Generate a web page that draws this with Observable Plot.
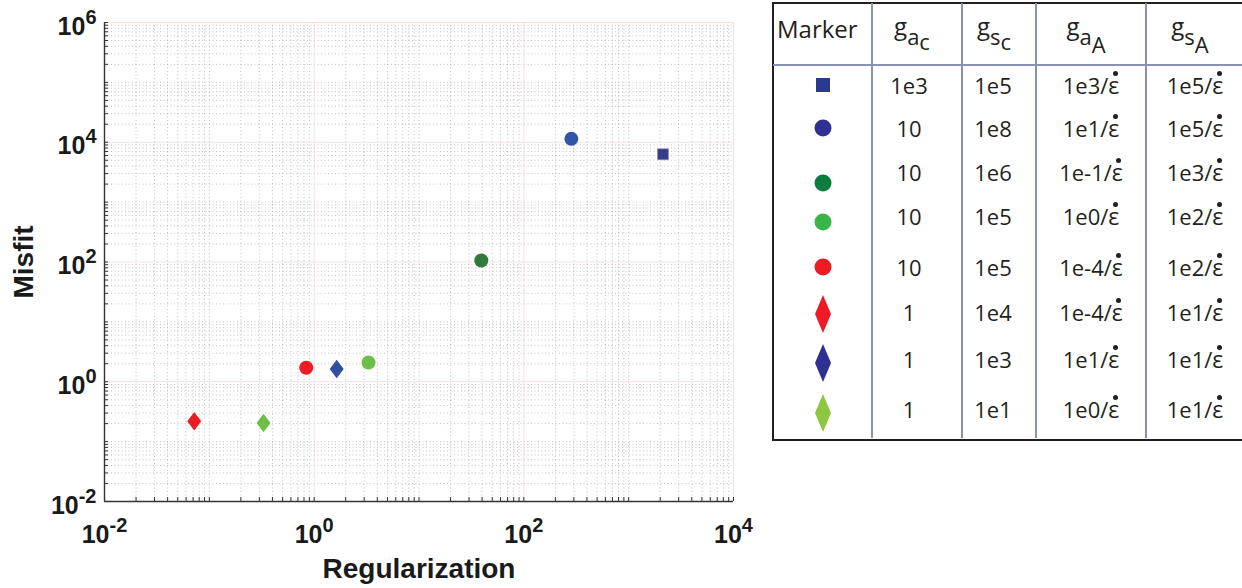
<!DOCTYPE html>
<html>
<head>
<meta charset="utf-8">
<script src="https://cdn.jsdelivr.net/npm/d3@7"></script>
<script src="https://cdn.jsdelivr.net/npm/@observablehq/plot@0.6"></script>
<style>
  html, body { margin: 0; padding: 0; background: #fff; overflow: hidden; }
  #wrap { position: relative; width: 1242px; height: 588px; }
  #chart { position: absolute; left: 0; top: 0; }
  #table { position: absolute; left: 0; top: 0; width: 1242px; height: 588px; pointer-events: none;
           font-family: "Open Sans", "Noto Sans", sans-serif; color: #231f20; }
  .cell { position: absolute; text-align: center; font-size: 22px; line-height: 26px; white-space: nowrap; }
  .hdr { position: absolute; text-align: center; font-size: 24px; line-height: 30px; white-space: nowrap; }
  .s1 { position: relative; top: 10px; font-size: 22px; }
  .s2 { position: relative; top: 5px; font-size: 22px; }
  .s2A { position: relative; top: 8px; font-size: 22px; }
  .eps { position: relative; display: inline-block; font-size: 23px; }
  .dot { position: absolute; width: 5px; height: 5px; border-radius: 50%; background: #231f20; left: calc(50% - 1px); top: -1px; }
  .line { position: absolute; background: #8a90b2; }
</style>
</head>
<body>
<div id="wrap">
  <div id="chart"></div>
  <div id="table"></div>
</div>
<script>
// ---------------- data ----------------
const series = ["sqNavy", "circleBlue", "circleDarkGreen", "circleLightGreen", "circleRed", "diamondRed", "diamondBlue", "diamondGreen"];
const regularization = [2125, 284, 39.3, 3.3, 0.84, 0.0718, 1.64, 0.329];
const misfit = [6300, 11400, 106, 2.1, 1.71, 0.219, 1.63, 0.205];
const shape = ["square", "circle", "circle", "circle", "circle", "diamond", "diamond", "diamond"];

const xMajorTicks = [1e-2, 1e0, 1e2, 1e4];
const yMajorTicks = [1e-2, 1e0, 1e2, 1e4, 1e6];

// table contents
const tableHeader = ["Marker", "g_ac", "g_sc", "g_aA", "g_sA"];
const gac = ["1e3", "10", "10", "10", "10", "1", "1", "1"];
const gsc = ["1e5", "1e8", "1e6", "1e5", "1e5", "1e4", "1e3", "1e1"];
const gaA = ["1e3", "1e1", "1e-1", "1e0", "1e-4", "1e-4", "1e1", "1e0"];
const gsA = ["1e5", "1e5", "1e3", "1e2", "1e2", "1e1", "1e1", "1e1"];

// ---------------- styles ----------------
const plotColor = {
  sqNavy: "#383c88", circleBlue: "#3353a8", circleDarkGreen: "#2f7a3c", circleLightGreen: "#6cc04a",
  circleRed: "#ec1c24", diamondRed: "#ec1c24", diamondBlue: "#2f4f9f", diamondGreen: "#6dbf45"
};
const tableColor = {
  sqNavy: "#2b3990", circleBlue: "#2e3192", circleDarkGreen: "#0a7d3e", circleLightGreen: "#39b54a",
  circleRed: "#ed1c24", diamondRed: "#ed1c24", diamondBlue: "#2e3192", diamondGreen: "#8dc63f"
};

const rows = series.map((s, i) => ({s, x: regularization[i], y: misfit[i], shape: shape[i]}));

// minor tick positions (log decades)
function logTicks(lo, hi) {
  const t = [];
  for (let e = lo; e < hi; e++) for (let m = 1; m < 10; m++) t.push(m * Math.pow(10, e));
  t.push(Math.pow(10, hi));
  return t;
}
const xAll = logTicks(-2, 4);
const yAll = logTicks(-2, 6);
const xMinor = xAll.filter(v => !xMajorTicks.some(t => Math.abs(t - v) / t < 1e-9));
const yMinor = yAll.filter(v => !yMajorTicks.some(t => Math.abs(t - v) / t < 1e-9));

const diamondSym = { draw(ctx, size) { const a = 7, b = 9.2; ctx.moveTo(0, -b); ctx.lineTo(a, 0); ctx.lineTo(0, b); ctx.lineTo(-a, 0); ctx.closePath(); } };

const W = 760, H = 588, mL = 104, mR = 27, mT = 22, mB = 87;
const fmt = d => "10^" + Math.round(Math.log10(d));

const chart = Plot.plot({
  width: W, height: H,
  marginLeft: mL, marginRight: mR, marginTop: mT, marginBottom: mB,
  style: { fontFamily: "'Liberation Sans', Arial, Helvetica, sans-serif", color: "#1a1a1a", background: "#fff" },
  x: { type: "log", domain: [1e-2, 1e4] },
  y: { type: "log", domain: [1e-2, 1e6] },
  marks: [
    Plot.gridX(xMinor, { stroke: "#9a9a9a", strokeOpacity: 0.75, strokeDasharray: "1,2.5", strokeWidth: 0.8 }),
    Plot.gridY(yMinor, { stroke: "#9a9a9a", strokeOpacity: 0.75, strokeDasharray: "1,2.5", strokeWidth: 0.8 }),
    Plot.gridX(xMajorTicks, { stroke: "#f9dede", strokeOpacity: 1, strokeWidth: 1 }),
    Plot.gridY(yMajorTicks, { stroke: "#f9dede", strokeOpacity: 1, strokeWidth: 1 }),
    Plot.tickX(xAll, { x: d => d, insetTop: (H - mT - mB) - 4, stroke: "#333", strokeWidth: 1 }),
    Plot.tickY(yAll, { y: d => d, insetRight: (W - mL - mR) - 4, stroke: "#333", strokeWidth: 1 }),
    Plot.ruleX([1e-2], { stroke: "#333", strokeWidth: 1.4 }),
    Plot.ruleY([1e-2], { stroke: "#333", strokeWidth: 1.4 }),
    Plot.axisX(xMajorTicks, { anchor: "bottom", tickSize: 0, tickPadding: 24, fontSize: 25, fontWeight: "bold", tickFormat: fmt, label: null, fill: "#1a1a1a" }),
    Plot.axisY(yMajorTicks, { anchor: "left", tickSize: 0, tickPadding: 8, fontSize: 25, fontWeight: "bold", tickFormat: fmt, label: null, dy: 4, fill: "#1a1a1a" }),
    Plot.text(["Regularization"], { frameAnchor: "bottom", dy: 68, textAnchor: "middle", lineAnchor: "middle", fontSize: 28, fontWeight: "bold", fill: "#1a1a1a" }),
    Plot.text(["Misfit"], { frameAnchor: "left", dx: -80, rotate: -90, textAnchor: "middle", lineAnchor: "middle", fontSize: 28, fontWeight: "bold", fill: "#1a1a1a" }),
    Plot.dot(rows.filter(d => d.shape === "circle"), { x: "x", y: "y", r: 7, symbol: "circle", fill: d => plotColor[d.s], stroke: "none" }),
    Plot.dot(rows.filter(d => d.shape === "square"), { x: "x", y: "y", r: 6.2, symbol: "square", fill: d => plotColor[d.s], stroke: "#8f90bf", strokeWidth: 0.6 }),
    Plot.dot(rows.filter(d => d.shape === "diamond"), { x: "x", y: "y", r: 6, symbol: diamondSym, fill: d => plotColor[d.s], stroke: "none" })
  ]
});

// superscript exponents for tick labels
chart.querySelectorAll('g[aria-label="x-axis tick label"] text, g[aria-label="y-axis tick label"] text').forEach(t => {
  const s = t.textContent;
  if (!s.includes("^")) return;
  const [base, exp] = s.split("^");
  t.textContent = "";
  const ns = "http://www.w3.org/2000/svg";
  const a = document.createElementNS(ns, "tspan"); a.textContent = base; t.appendChild(a);
  const b = document.createElementNS(ns, "tspan"); b.textContent = exp;
  b.setAttribute("dy", "-0.55em"); b.setAttribute("font-size", "0.8em"); t.appendChild(b);
});
document.getElementById("chart").appendChild(chart);

// ---------------- table ----------------
const tb = document.getElementById("table");
const colEdges = [773, 872, 962, 1036, 1146, 1244];
const tTop = 3, tBottom = 438, hdrLine = 65;
const textY = [85, 128, 172, 216, 267, 312, 359, 409];
const markY = [85, 128, 183, 222, 267, 314, 363, 413];

function add(html, cls, style) {
  const d = document.createElement("div");
  d.className = cls; d.innerHTML = html;
  Object.assign(d.style, style);
  tb.appendChild(d);
  return d;
}
// outer border
add("", "", { position: "absolute", left: (colEdges[0] - 1.5) + "px", top: (tTop - 1.5) + "px",
  width: "600px", height: (tBottom - tTop) + "px", border: "2.5px solid #231f20", borderRight: "none" });
// inner lines
for (let i = 1; i < colEdges.length - 1; i++) {
  add("", "line", { left: (colEdges[i] - 1) + "px", top: tTop + "px", width: "2px", height: (tBottom - tTop) + "px" });
}
add("", "line", { left: colEdges[0] + "px", top: (hdrLine - 1) + "px", width: "480px", height: "2px" });

// header
const hdrHTML = [
  "Marker",
  'g<span class="s1">a<span class="s2">c</span></span>',
  'g<span class="s1">s<span class="s2">c</span></span>',
  'g<span class="s1">a<span class="s2A">A</span></span>',
  'g<span class="s1">s<span class="s2A">A</span></span>'
];
hdrHTML.forEach((h, c) => {
  if (c === 0) add(h, "hdr", { left: "777px", top: "14px", textAlign: "left" });
  else add(h, "hdr", { left: colEdges[c] + "px", width: (colEdges[c + 1] - colEdges[c] - 10) + "px", top: "11px" });
});

const epsHTML = '/<span class="eps">ε<span class="dot"></span></span>';
const cols = [gac, gsc, gaA.map(v => v + epsHTML), gsA.map(v => v + epsHTML)];
cols.forEach((col, ci) => {
  const c = ci + 1;
  const shift = c === 1 ? -8 : (c === 2 ? -6 : 0);
  col.forEach((v, r) => {
    add(v, "cell", { left: (colEdges[c] + shift) + "px", width: (colEdges[c + 1] - colEdges[c]) + "px", top: (textY[r] - 13) + "px" });
  });
});

// markers
const ns = "http://www.w3.org/2000/svg";
series.forEach((s, r) => {
  const svg = document.createElementNS(ns, "svg");
  const w = 20, h = 40;
  svg.setAttribute("width", w); svg.setAttribute("height", h);
  Object.assign(svg.style, { position: "absolute", left: (823 - w / 2) + "px", top: (markY[r] - h / 2) + "px" });
  let el;
  if (shape[r] === "square") {
    el = document.createElementNS(ns, "rect");
    el.setAttribute("x", 3); el.setAttribute("y", 13); el.setAttribute("width", 14); el.setAttribute("height", 14);
  } else if (shape[r] === "circle") {
    el = document.createElementNS(ns, "circle");
    el.setAttribute("cx", 10); el.setAttribute("cy", 20); el.setAttribute("r", 8.5);
  } else {
    el = document.createElementNS(ns, "polygon");
    el.setAttribute("points", "10,1 18,20 10,39 2,20");
  }
  el.setAttribute("fill", tableColor[s]);
  svg.appendChild(el);
  tb.appendChild(svg);
});
</script>
</body>
</html>
